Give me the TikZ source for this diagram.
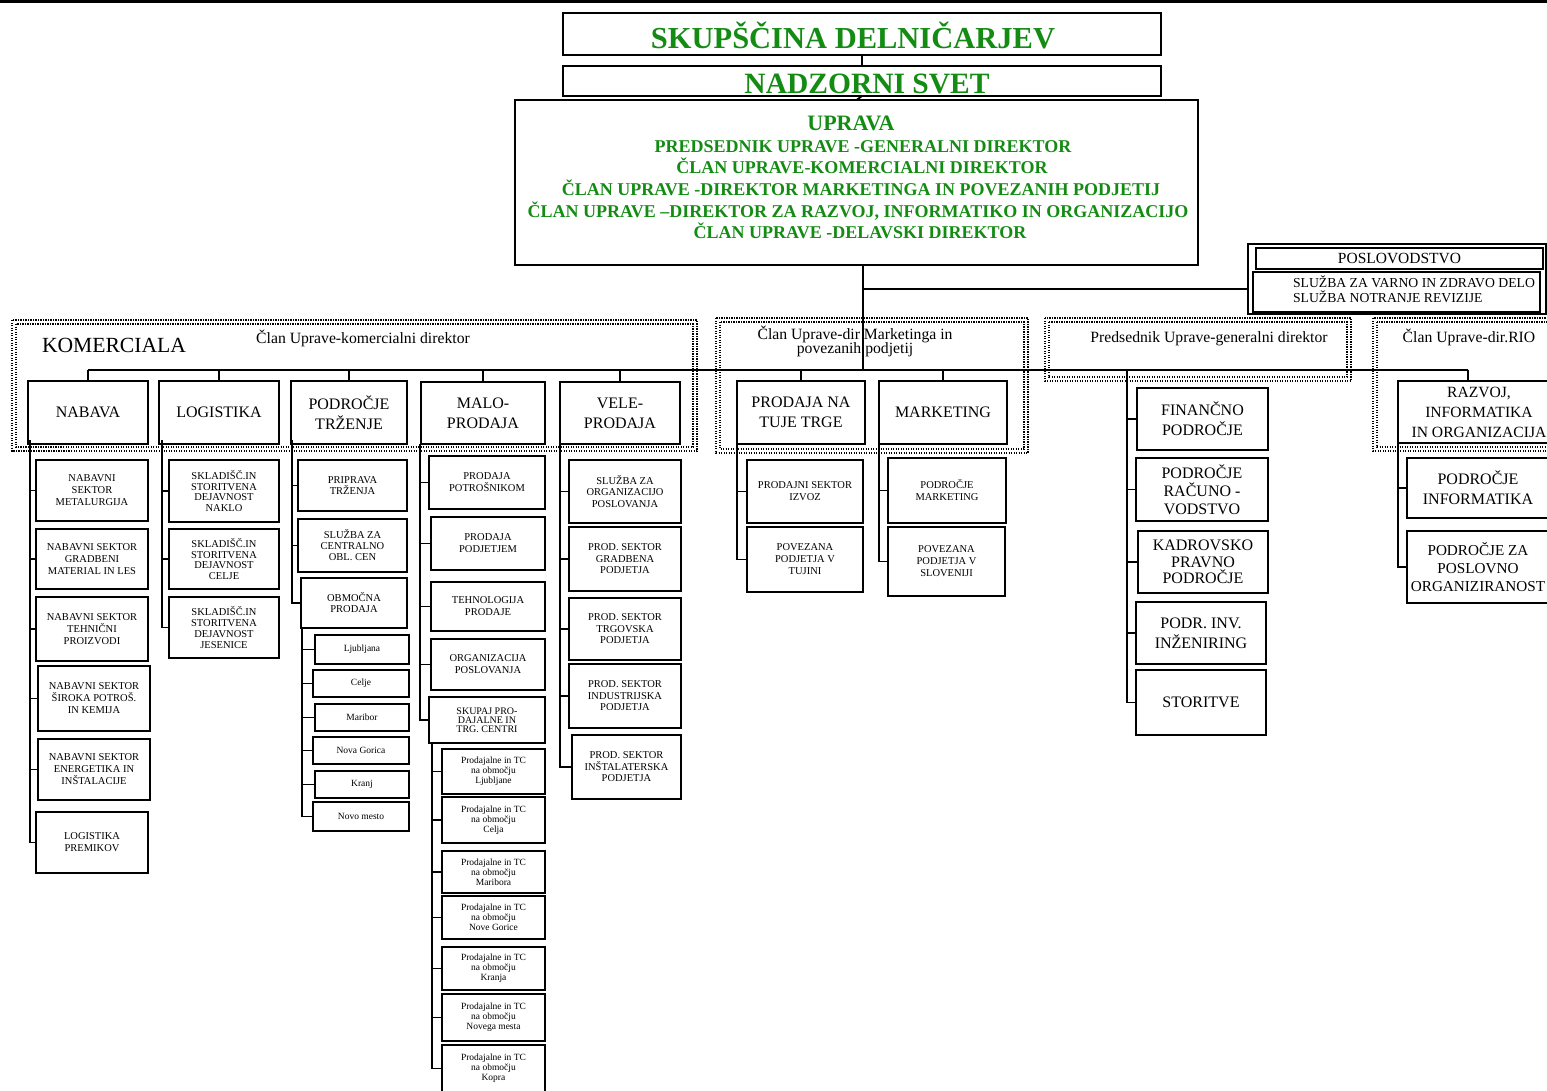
\documentclass[tikz,border=0pt]{standalone}
\usepackage{fontspec}
\setmainfont{Liberation Serif}
\definecolor{grn}{RGB}{20,140,20}
\newcommand\fs[2]{\fontsize{#1}{#2}\selectfont}
\newcommand\bx[7][]{\node[bx,#1,anchor=north west,minimum width={(#5)-(#3)},minimum height={(#6)-(#4)}] (#2) at (#3,#4) {#7};}
\newcommand\dfr[4]{\draw[dfr] (#1,#2) rectangle (#3,#4); \draw[dfr] ({#1+4},{#2+4}) rectangle ({#3-4},{#4-4});}
\newcommand\ticks[2]{\foreach \c in {#2}{\draw[ln] (#1 |- \c.west) -- (\c.west);}}
\begin{document}
\begin{tikzpicture}[x=1pt,y=-1pt,
 every node/.style={inner sep=0pt,outer sep=0pt},
 bx/.style={draw,line width=1.8pt,align=center,font=\fs{10.5}{12}},
 big/.style={font=\fs{16}{20}},
 sm/.style={font=\fs{9.5}{10}},
 ln/.style={line width=1.8pt},
 dfr/.style={line width=1.3pt,dash pattern=on 1.3pt off 1.2pt},
 gt/.style={text=grn,anchor=base,font=\bfseries\fs{18}{21}},
 lab/.style={anchor=base,font=\fs{15.7}{14}}
]
\fill[white] (0,0) rectangle (1547,1090);
\useasboundingbox (0,0) rectangle (1547,1090);
\draw[line width=3.4pt] (0,1.7) -- (1547,1.7);

% dotted frames
\dfr{12}{320}{697}{451}
\dfr{716}{318}{1028}{453}
\dfr{1045}{318}{1351}{381}
\dfr{1373}{318}{1560}{451}

% top boxes
\bx{skup}{563}{13}{1161}{55}{}
\bx{nadz}{563}{66}{1161}{96}{}
\bx{upr}{515}{100}{1198}{265}{}
\node[gt,font=\bfseries\fs{30.5}{30}] at (853,48) {SKUPŠČINA DELNIČARJEV};
\node[gt,font=\bfseries\fs{29.5}{30}] at (867,93) {NADZORNI SVET};
\node[gt,font=\bfseries\fs{22}{22}] at (851,130) {UPRAVA};
\node[gt] at (863,152) {PREDSEDNIK UPRAVE -GENERALNI DIREKTOR};
\node[gt] at (862,173) {ČLAN UPRAVE-KOMERCIALNI DIREKTOR};
\node[gt] at (861,195) {ČLAN UPRAVE -DIREKTOR MARKETINGA IN POVEZANIH PODJETIJ};
\node[gt] at (858,217) {ČLAN UPRAVE –DIREKTOR ZA RAZVOJ, INFORMATIKO IN ORGANIZACIJO};
\node[gt] at (860,238) {ČLAN UPRAVE -DELAVSKI DIREKTOR};

\draw[ln] (skup.south) -- (nadz.north);
\draw[ln] (nadz.south) -- (upr.north);
\coordinate (bus) at (863,370);
\draw[ln] (upr.south -| bus) -- (bus);

% poslovodstvo
\bx[line width=1.5pt]{poslo}{1248}{244}{1546}{314}{}
\bx[line width=1.5pt,font=\fs{15.5}{16}]{poslo1}{1256}{248}{1543}{269}{POSLOVODSTVO}
\bx[line width=1.5pt]{poslo2}{1253}{272}{1540}{312}{}
\begin{scope}
\clip (poslo2.south west) rectangle (poslo2.north east);
\node[anchor=base west,font=\fs{13.7}{15}] (sl1) at (1293,287) {SLUŽBA ZA VARNO IN ZDRAVO DELO};
\node[anchor=base west,font=\fs{13.7}{15}] (sl2) at (1293,302) {SLUŽBA NOTRANJE REVIZIJE};
\end{scope}
\coordinate (pj) at (863,289);
\draw[ln] (pj) -- (pj -| poslo.west);

% group labels
\node[anchor=base west,font=\fs{21.6}{22}] (kom) at (42,352) {KOMERCIALA};
\node[lab] (l-kom) at (363,343) {Član Uprave-komercialni direktor};
\node[lab] (l-mk1) at (855,339) {Član Uprave-dir Marketinga in};
\node[lab] (l-mk2) at (855,353) {povezanih podjetij};
\node[lab] (l-pr) at (1209,342) {Predsednik Uprave-generalni direktor};
\node[lab] (l-rio) at (1469,342) {Član Uprave-dir.RIO};

% second level
\bx[big]{nabava}{28}{381}{148}{444}{NABAVA}
\bx[big]{logist}{159}{381}{279}{444}{LOGISTIKA}
\bx[big]{trz}{291}{381}{407}{444}{PODROČJE\\TRŽENJE}
\bx[big]{malo}{421}{382}{545}{444}{MALO-\\PRODAJA}
\bx[big]{vele}{560}{382}{680}{444}{VELE-\\PRODAJA}
\bx[big]{tuje}{737}{381}{865}{444}{PRODAJA NA\\TUJE TRGE}
\bx[big]{mark}{879}{381}{1007}{444}{MARKETING}
\bx[big,font=\fs{15.6}{20}]{razvoj}{1398}{381}{1560}{443}{RAZVOJ,\\INFORMATIKA\\IN ORGANIZACIJA}

\coordinate (rdrop) at (1468,370);
\draw[ln] (nabava.north |- bus) -- (rdrop);
\foreach \b in {nabava,logist,trz,malo,vele,tuje,mark}{\draw[ln] (\b.north) -- (\b.north |- bus);}
\draw[ln] (rdrop) -- (rdrop |- razvoj.north);

% NABAVA
\bx{n1}{36}{460}{148}{521}{NABAVNI\\SEKTOR\\METALURGIJA}
\bx{n2}{36}{529}{148}{589}{NABAVNI SEKTOR\\GRADBENI\\MATERIAL IN LES}
\bx{n3}{36}{597}{148}{661}{NABAVNI SEKTOR\\TEHNIČNI\\PROIZVODI}
\bx{n4}{38}{666}{150}{731}{NABAVNI SEKTOR\\ŠIROKA POTROŠ.\\IN KEMIJA}
\bx{n5}{38}{739}{150}{800}{NABAVNI SEKTOR\\ENERGETIKA IN\\INŠTALACIJE}
\bx{n6}{36}{812}{148}{873}{LOGISTIKA\\PREMIKOV}
\coordinate (nabT) at (30,440);
\draw[ln] (nabT) |- (n6.west);
\ticks{nabT}{n1,n2,n3,n4,n5}

% LOGISTIKA
\bx[font=\fs{10.5}{10.8}]{l1}{169}{460}{279}{522}{SKLADIŠČ.IN\\STORITVENA\\DEJAVNOST\\NAKLO}
\bx[font=\fs{10.5}{10.8}]{l2}{169}{529}{279}{589}{SKLADIŠČ.IN\\STORITVENA\\DEJAVNOST\\CELJE}
\bx[font=\fs{10.5}{10.8}]{l3}{169}{597}{279}{658}{SKLADIŠČ.IN\\STORITVENA\\DEJAVNOST\\JESENICE}
\coordinate (logT) at (162,440);
\draw[ln] (logT) |- (l3.west);
\ticks{logT}{l1,l2}

% TRZENJE
\bx[font=\fs{10.5}{11}]{t1}{298}{460}{407}{511}{PRIPRAVA\\TRŽENJA}
\bx[font=\fs{10.5}{11}]{t2}{298}{519}{407}{572}{SLUŽBA ZA\\CENTRALNO\\OBL. CEN}
\bx[font=\fs{10.5}{11}]{t3}{301}{578}{407}{628}{OBMOČNA\\PRODAJA}
\coordinate (trzT) at (292,440);
\draw[ln] (trzT) |- (t3.west);
\ticks{trzT}{t1,t2}
\bx[sm]{o1}{315}{635}{409}{664}{Ljubljana}
\bx[sm]{o2}{313}{670}{409}{697}{Celje}
\bx[sm]{o3}{315}{704}{409}{731}{Maribor}
\bx[sm]{o4}{313}{737}{409}{764}{Nova Gorica}
\bx[sm]{o5}{315}{771}{409}{798}{Kranj}
\bx[sm]{o6}{313}{802}{409}{831}{Novo mesto}
\coordinate (obT) at (302,628);
\draw[ln] (obT) |- (o6.west);
\ticks{obT}{o1,o2,o3,o4,o5}

% MALOPRODAJA
\bx{m1}{429}{456}{545}{509}{PRODAJA\\POTROŠNIKOM}
\bx{m2}{431}{517}{545}{570}{PRODAJA\\PODJETJEM}
\bx{m3}{431}{582}{545}{631}{TEHNOLOGIJA\\PRODAJE}
\bx{m4}{431}{639}{545}{690}{ORGANIZACIJA\\POSLOVANJA}
\bx[font=\fs{10}{9}]{m5}{429}{697}{545}{743}{SKUPAJ PRO-\\DAJALNE IN\\TRG. CENTRI}
\coordinate (maloT) at (420,444);
\draw[ln] (maloT) |- (m5.west);
\ticks{maloT}{m1,m2,m3,m4}
\bx[sm]{s1}{442}{749}{545}{794}{Prodajalne in TC\\na območju\\Ljubljane}
\bx[sm]{s2}{442}{797}{545}{843}{Prodajalne in TC\\na območju\\Celja}
\bx[sm]{s3}{442}{851}{545}{893}{Prodajalne in TC\\na območju\\Maribora}
\bx[sm]{s4}{442}{896}{545}{939}{Prodajalne in TC\\na območju\\Nove Gorice}
\bx[sm]{s5}{442}{947}{545}{990}{Prodajalne in TC\\na območju\\Kranja}
\bx[sm]{s6}{442}{994}{545}{1041}{Prodajalne in TC\\na območju\\Novega mesta}
\bx[sm]{s7}{442}{1045}{545}{1092}{Prodajalne in TC\\na območju\\Kopra}
\coordinate (skT) at (432,743);
\draw[ln] (skT) |- (s7.west);
\ticks{skT}{s1,s2,s3,s4,s5,s6}

% VELEPRODAJA
\bx[font=\fs{10.5}{11.5}]{v1}{569}{460}{681}{523}{SLUŽBA ZA\\ORGANIZACIJO\\POSLOVANJA}
\bx[font=\fs{10.5}{11.5}]{v2}{569}{527}{681}{591}{PROD. SEKTOR\\GRADBENA\\PODJETJA}
\bx[font=\fs{10.5}{11.5}]{v3}{569}{598}{681}{660}{PROD. SEKTOR\\TRGOVSKA\\PODJETJA}
\bx[font=\fs{10.5}{11.5}]{v4}{569}{664}{681}{728}{PROD. SEKTOR\\INDUSTRIJSKA\\PODJETJA}
\bx[font=\fs{10.5}{11.5}]{v5}{572}{735}{681}{799}{PROD. SEKTOR\\INŠTALATERSKA\\PODJETJA}
\coordinate (veleT) at (560,444);
\draw[ln] (veleT) |- (v5.west);
\ticks{veleT}{v1,v2,v3,v4}

% TUJE TRGE
\bx{p1}{747}{460}{863}{523}{PRODAJNI SEKTOR\\IZVOZ}
\bx{p2}{747}{527}{863}{592}{POVEZANA\\PODJETJA V\\TUJINI}
\coordinate (tujeT) at (737,444);
\draw[ln] (tujeT) |- (p2.west);
\ticks{tujeT}{p1}

% MARKETING
\bx{k1}{888}{458}{1006}{523}{PODROČJE\\MARKETING}
\bx{k2}{888}{527}{1005}{596}{POVEZANA\\PODJETJA V\\SLOVENIJI}
\coordinate (markT) at (879,444);
\draw[ln] (markT) |- (k2.west);
\ticks{markT}{k1}

% PREDSEDNIK
\bx[big]{fin}{1137}{388}{1268}{450}{FINANČNO\\PODROČJE}
\bx[big,font=\fs{16}{18}]{rac}{1136}{458}{1268}{521}{PODROČJE\\RAČUNO -\\VODSTVO}
\bx[big,font=\fs{16}{16.5}]{kad}{1138}{531}{1268}{593}{KADROVSKO\\PRAVNO\\PODROČJE}
\bx[big]{inv}{1136}{602}{1266}{664}{PODR. INV.\\INŽENIRING}
\bx[big]{stor}{1136}{670}{1266}{735}{STORITVE}
\coordinate (predT) at (1127,370);
\draw[ln] (predT) |- (stor.west);
\ticks{predT}{fin,rac,kad,inv}

% RIO
\bx[big]{inf}{1407}{458}{1549}{518}{PODROČJE\\INFORMATIKA}
\bx[big,font=\fs{15.2}{18}]{org}{1407}{531}{1549}{603}{PODROČJE ZA\\POSLOVNO\\ORGANIZIRANOST}
\coordinate (rioT) at (1398,443);
\draw[ln] (rioT) |- (org.west);
\ticks{rioT}{inf}
\end{tikzpicture}
\end{document}
